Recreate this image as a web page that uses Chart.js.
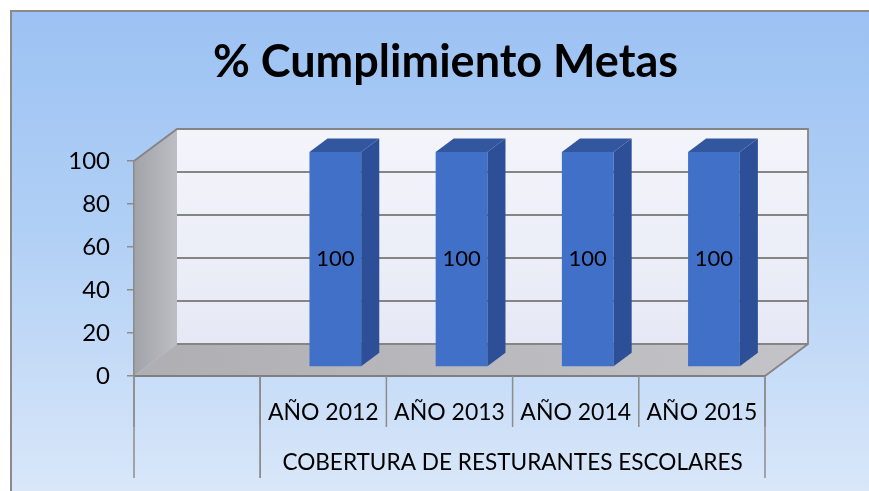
<!DOCTYPE html>
<html>
<head>
<meta charset="utf-8">
<script src="https://cdn.jsdelivr.net/npm/chart.js@4.4.1/dist/chart.umd.min.js"></script>
<style>
    html, body { margin: 0; padding: 0; background: #ffffff; }
    #wrap { width: 869px; height: 491px; }
</style>
</head>
<body>
<div id="wrap"><canvas id="metasChart" width="869" height="491"></canvas></div>
<script>
// % Cumplimiento Metas - 3D style column chart

const categories = ['', 'AÑO 2012', 'AÑO 2013', 'AÑO 2014', 'AÑO 2015'];
const groupLabels = ['', 'COBERTURA DE RESTURANTES ESCOLARES'];
const groupSizes = [1, 4];
const cumplimiento = [null, 100, 100, 100, 100];
const yTicks = [0, 20, 40, 60, 80, 100];

// 3D look
const DEPTH_X = 43;
const DEPTH_Y = 32;
const BAR_FRONT = 0.28;
const BAR_BACK = 0.70;
const FONT = 'Lato, "Open Sans", sans-serif';

const frame3d = {
    id: 'frame3d',
    beforeDraw(chart) {
        const { ctx, chartArea: a, scales } = chart;
        const y = scales.y;

        // outer box
        ctx.save();
        const bg = ctx.createLinearGradient(0, 10, 0, 491);
        bg.addColorStop(0, '#9cc2f3');
        bg.addColorStop(0.45, '#b0cff5');
        bg.addColorStop(1, '#d9e7f9');
        ctx.fillStyle = bg;
        ctx.fillRect(10, 10, 859, 481);
        ctx.strokeStyle = '#8a8a8a';
        ctx.lineWidth = 2;
        ctx.beginPath();
        ctx.moveTo(11, 491);
        ctx.lineTo(11, 11);
        ctx.lineTo(869, 11);
        ctx.stroke();

        const top = y.getPixelForValue(100);
        const bottom = y.getPixelForValue(0);

        // back wall
        const wall = ctx.createLinearGradient(0, top - DEPTH_Y, 0, bottom - DEPTH_Y);
        wall.addColorStop(0, '#f4f5fb');
        wall.addColorStop(1, '#e6e9f5');
        ctx.fillStyle = wall;
        ctx.fillRect(a.left + DEPTH_X, top - DEPTH_Y, a.right - a.left, bottom - top);

        // side wall
        const side = ctx.createLinearGradient(a.left, 0, a.left + DEPTH_X, 0);
        side.addColorStop(0, '#a2a3a8');
        side.addColorStop(1, '#bdbec3');
        ctx.fillStyle = side;
        ctx.beginPath();
        ctx.moveTo(a.left, top);
        ctx.lineTo(a.left + DEPTH_X, top - DEPTH_Y);
        ctx.lineTo(a.left + DEPTH_X, bottom - DEPTH_Y);
        ctx.lineTo(a.left, bottom);
        ctx.closePath();
        ctx.fill();

        // floor
        const floor = ctx.createLinearGradient(a.left, 0, a.right + DEPTH_X, 0);
        floor.addColorStop(0, '#aeaeb3');
        floor.addColorStop(1, '#c4c4c8');
        ctx.fillStyle = floor;
        ctx.beginPath();
        ctx.moveTo(a.left, bottom);
        ctx.lineTo(a.left + DEPTH_X, bottom - DEPTH_Y);
        ctx.lineTo(a.right + DEPTH_X, bottom - DEPTH_Y);
        ctx.lineTo(a.right, bottom);
        ctx.closePath();
        ctx.fill();

        // gridlines on back wall
        ctx.strokeStyle = '#858585';
        ctx.lineWidth = 1.8;
        yTicks.forEach(v => {
            const py = y.getPixelForValue(v) - DEPTH_Y;
            ctx.beginPath();
            ctx.moveTo(a.left + DEPTH_X, py);
            ctx.lineTo(a.right + DEPTH_X, py);
            ctx.stroke();
        });

        // wall outline
        ctx.beginPath();
        ctx.moveTo(a.left, top);
        ctx.lineTo(a.left + DEPTH_X, top - DEPTH_Y);
        ctx.lineTo(a.right + DEPTH_X, top - DEPTH_Y);
        ctx.lineTo(a.right + DEPTH_X, bottom - DEPTH_Y);
        ctx.lineTo(a.right, bottom);
        ctx.stroke();
        ctx.restore();
    },
    beforeDatasetsDraw(chart) {
        chart.ctx.save();
        chart.ctx.translate(DEPTH_X * BAR_FRONT, -DEPTH_Y * BAR_FRONT);
    },
    afterDatasetsDraw(chart) {
        const { ctx } = chart;
        const dx = DEPTH_X * (BAR_BACK - BAR_FRONT);
        const dy = DEPTH_Y * (BAR_BACK - BAR_FRONT);
        chart.getDatasetMeta(0).data.forEach((bar, i) => {
            if (cumplimiento[i] === null) return;
            const { x, y, base, width } = bar.getProps(['x', 'y', 'base', 'width'], true);
            const l = x - width / 2;
            const r = x + width / 2;

            // side face
            ctx.fillStyle = '#2c4f98';
            ctx.beginPath();
            ctx.moveTo(r, y);
            ctx.lineTo(r + dx, y - dy);
            ctx.lineTo(r + dx, base - dy);
            ctx.lineTo(r, base);
            ctx.closePath();
            ctx.fill();

            // top face
            ctx.fillStyle = '#33579f';
            ctx.beginPath();
            ctx.moveTo(l, y);
            ctx.lineTo(l + dx, y - dy);
            ctx.lineTo(r + dx, y - dy);
            ctx.lineTo(r, y);
            ctx.closePath();
            ctx.fill();

            // value label
            ctx.fillStyle = '#000000';
            ctx.font = '22px ' + FONT;
            ctx.textAlign = 'center';
            ctx.textBaseline = 'middle';
            ctx.fillText(String(cumplimiento[i]), x, (y + base) / 2);
        });
        ctx.restore();
    },
    afterDraw(chart) {
        const { ctx, chartArea: a, scales } = chart;
        const x = scales.x;
        const half = (x.getPixelForValue(1) - x.getPixelForValue(0)) / 2;
        const edge = i => x.getPixelForValue(i) - half;

        ctx.save();
        ctx.strokeStyle = '#8c8c8c';
        ctx.lineWidth = 1.5;
        // separators between categories
        for (let i = 0; i <= categories.length; i++) {
            ctx.beginPath();
            ctx.moveTo(edge(i), a.bottom);
            ctx.lineTo(edge(i), a.bottom + 51);
            ctx.stroke();
        }
        // group separators and labels
        let start = 0;
        ctx.fillStyle = '#000000';
        ctx.font = '22.6px ' + FONT;
        ctx.textAlign = 'center';
        ctx.textBaseline = 'alphabetic';
        groupSizes.forEach((n, g) => {
            [start, start + n].forEach(i => {
                ctx.beginPath();
                ctx.moveTo(edge(i), a.bottom);
                ctx.lineTo(edge(i), a.bottom + 102);
                ctx.stroke();
            });
            ctx.fillText(groupLabels[g], (edge(start) + edge(start + n)) / 2, a.bottom + 94);
            start += n;
        });
        ctx.restore();
    }
};

const ctx = document.getElementById('metasChart').getContext('2d');
new Chart(ctx, {
    type: 'bar',
    data: {
        labels: categories,
        datasets: [{
            label: '% Cumplimiento',
            data: cumplimiento,
            backgroundColor: '#4170c8',
            borderWidth: 0,
            barPercentage: 0.41,
            categoryPercentage: 1,
            clip: false
        }]
    },
    options: {
        responsive: false,
        animation: false,
        layout: {
            padding: { left: 22, right: 0, top: 10, bottom: 0 }
        },
        plugins: {
            legend: { display: false },
            tooltip: { enabled: false },
            title: {
                display: true,
                text: '% Cumplimiento Metas',
                color: '#000000',
                font: { family: FONT, size: 45, weight: 'bold' },
                padding: { top: 25, bottom: 72 }
            }
        },
        scales: {
            x: {
                grid: { display: false },
                border: { display: true, color: '#7f7f7f', width: 2 },
                ticks: {
                    color: '#000000',
                    font: { family: FONT, size: 23 },
                    padding: 15,
                    maxRotation: 0,
                    autoSkip: false
                },
                afterFit(s) { s.height = 115; }
            },
            y: {
                min: 0,
                max: 100,
                ticks: {
                    stepSize: 20,
                    color: '#000000',
                    font: { family: FONT, size: 24 },
                    padding: 17
                },
                grid: {
                    drawOnChartArea: false,
                    tickLength: 7,
                    color: '#8c8c8c',
                    lineWidth: 1.5
                },
                border: { display: true, color: '#8c8c8c', width: 1.5 },
                afterFit(s) { s.width = 112; }
            },
            // empty right-hand space that holds the 3D walls
            depth: {
                position: 'right',
                display: true,
                grid: { display: false },
                border: { display: false },
                ticks: { display: false },
                afterFit(s) { s.width = 104; }
            }
        }
    },
    plugins: [frame3d]
});
</script>
</body>
</html>
